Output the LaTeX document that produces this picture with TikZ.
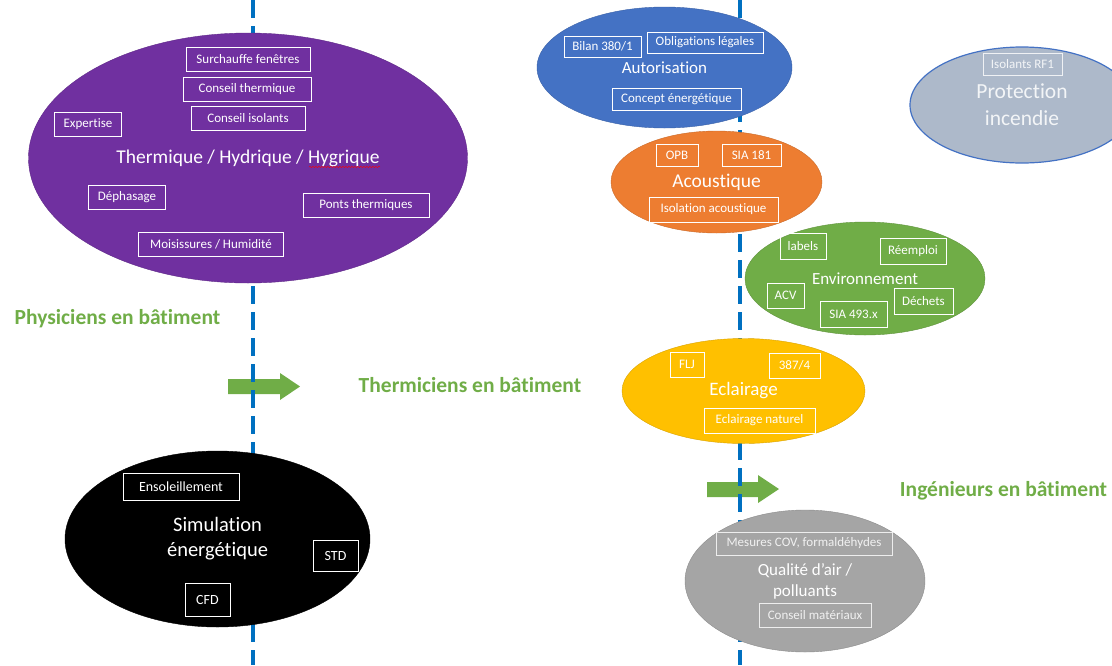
\documentclass[tikz,border=0pt]{standalone}
\usepackage{fontspec}
\setmainfont{Carlito}[Ligatures={NoCommon}]
\usetikzlibrary{shapes.geometric, decorations.pathmorphing}
\definecolor{thermviolet}{HTML}{7030A0}
\definecolor{autorblue}{HTML}{4472C4}
\definecolor{acouorange}{HTML}{ED7D31}
\definecolor{envgreen}{HTML}{70AD47}
\definecolor{eclairgold}{HTML}{FFC000}
\definecolor{qairgray}{HTML}{A5A5A5}
\definecolor{incendgray}{HTML}{ADB9CA}
\definecolor{axisblue}{HTML}{0070C0}
\tikzset{
  zone/.style={ellipse, fill=#1, draw=#1!85!black, thin, text=white, align=center, inner sep=0pt},
  topic/.style={rectangle, draw=white, line width=1pt, text=white, inner sep=2pt,
                minimum height=24pt, font=\fontsize{13}{15}\selectfont},
  axisline/.style={axisblue, line width=4.5pt, dash pattern=on 18pt off 8pt},
  role/.style={text=envgreen, font=\bfseries\fontsize{21.5}{25}\selectfont},
}

\begin{document}
\begin{tikzpicture}[x=1pt, y=-1pt]
  \useasboundingbox (0,0) rectangle (1112,665);
  \clip (0,0) rectangle (1112,665);

  % shift arrows
  \fill[envgreen] (228,379) -- (280,379) -- (280,373) -- (300,386.5) -- (280,400) -- (280,394) -- (228,394) -- cycle;
  \fill[envgreen] (707,482) -- (758,482) -- (758,475) -- (779,489) -- (758,503) -- (758,497) -- (707,497) -- cycle;

  % separators
  \draw[axisline] (253,0) -- (253,665);
  \draw[axisline] (740,0) -- (740,665);

  % Thermique
  \node[zone=thermviolet, minimum width=439, minimum height=250,
        font=\fontsize{19.5}{23}\selectfont] (therm) at (248,158) {Thermique / Hydrique / Hygrique};
  \draw[red, decorate, decoration={snake, amplitude=0.7pt, segment length=3pt}] (309,167) -- (380,167);
  \node[topic, minimum width=124] (surch) at (248,59.5) {Surchauffe fenêtres};
  \node[topic, minimum width=128] (cthe) at (247,89) {Conseil thermique};
  \node[topic, minimum width=114] (ciso) at (248,118) {Conseil isolants};
  \node[topic, minimum width=67] (expert) at (88,124) {Expertise};
  \node[topic, minimum width=77] (dephas) at (127,197) {Déphasage};
  \node[topic, minimum width=126] (ponts) at (366,205) {Ponts thermiques};
  \node[topic, minimum width=145] (moisi) at (211,244) {Moisissures / Humidité};

  % Autorisation
  \node[zone=autorblue, minimum width=255, minimum height=121,
        font=\fontsize{17}{20}\selectfont] (autor) at (664.5,67.5) {Autorisation};
  \node[topic, minimum width=77, minimum height=21] (bilan) at (602.5,46.5) {Bilan 380/1};
  \node[topic, minimum width=116, minimum height=21] (oblig) at (705,42.5) {Obligations légales};
  \node[topic, minimum width=129, minimum height=22] (concept) at (676.5,99) {Concept énergétique};

  % Acoustique
  \node[zone=acouorange, minimum width=211, minimum height=102,
        font=\fontsize{19.5}{23}\selectfont] (acou) at (716.5,182) {Acoustique};
  \node[topic, minimum width=42, minimum height=22] (opb) at (677,155) {OPB};
  \node[topic, minimum width=59, minimum height=22] (sia181) at (751.5,155) {SIA 181};
  \node[topic, minimum width=129, minimum height=25] (isol) at (713.5,209.5) {Isolation acoustique};

  % Environnement
  \node[zone=envgreen, minimum width=240, minimum height=113,
        font=\fontsize{17}{20}\selectfont] (envir) at (865,278.5) {Environnement};
  \node[topic, minimum width=46, minimum height=26] (labels) at (803,246) {labels};
  \node[topic, minimum width=66, minimum height=26] (reempl) at (913,251) {Réemploi};
  \node[topic, minimum width=37, minimum height=25] (acv) at (785.5,295.5) {ACV};
  \node[topic, minimum width=67, minimum height=26] (sia493) at (853.5,314) {SIA 493.x};
  \node[topic, minimum width=59, minimum height=26] (dechets) at (923.5,301) {Déchets};

  % Eclairage
  \node[zone=eclairgold, minimum width=243, minimum height=105,
        font=\fontsize{19}{23}\selectfont] (eclair) at (743.5,391) {Eclairage};
  \node[topic, minimum width=34, minimum height=25] (flj) at (687,364.5) {FLJ};
  \node[topic, minimum width=51, minimum height=25] (norm387) at (794.5,365.5) {387/4};
  \node[topic, minimum width=111, minimum height=25] (eclnat) at (759.5,420.5) {Eclairage naturel};

  % Simulation
  \node[zone=black, minimum width=305, minimum height=176,
        font=\fontsize{20.5}{25}\selectfont] (simul) at (217.5,539) {Simulation\\énergétique};
  \node[topic, minimum width=116, minimum height=27, font=\fontsize{14}{16}\selectfont] (ensol) at (181,486.5) {Ensoleillement};
  \node[topic, minimum width=45, minimum height=31, font=\fontsize{14}{16}\selectfont] (std) at (335.5,555.5) {STD};
  \node[topic, minimum width=45, minimum height=33, font=\fontsize{14}{16}\selectfont] (cfd) at (207.5,599.5) {CFD};

  % Qualite d'air
  \node[zone=qairgray, minimum width=240, minimum height=142,
        font=\fontsize{17}{21}\selectfont] (qair) at (805,581) {Qualité d’air /\\polluants};
  \node[topic, draw=white!80!qairgray, text=white!85!qairgray, minimum width=176, minimum height=23] (cov) at (804,543.5) {Mesures COV, formaldéhydes};
  \node[topic, draw=white!80!qairgray, text=white!85!qairgray, minimum width=112, minimum height=24] (cmat) at (815,615) {Conseil matériaux};

  % Protection incendie
  \node[zone=incendgray, draw=autorblue, line width=1.2pt, text=white!85!incendgray,
        minimum width=224, minimum height=116, font=\fontsize{21.5}{27}\selectfont] (incend) at (1022,105) {Protection\\incendie};
  \node[topic, draw=white!80!incendgray, text=white!85!incendgray, minimum width=79, minimum height=22] (rf1) at (1022.5,64) {Isolants RF1};

  % roles
  \node[role] (phys) at (117.5,319) {Physiciens en bâtiment};
  \node[role] (thermi) at (470,385) {Thermiciens en bâtiment};
  \node[role] (ingen) at (1003.5,491) {Ingénieurs en bâtiment};
\end{tikzpicture}
\end{document}
